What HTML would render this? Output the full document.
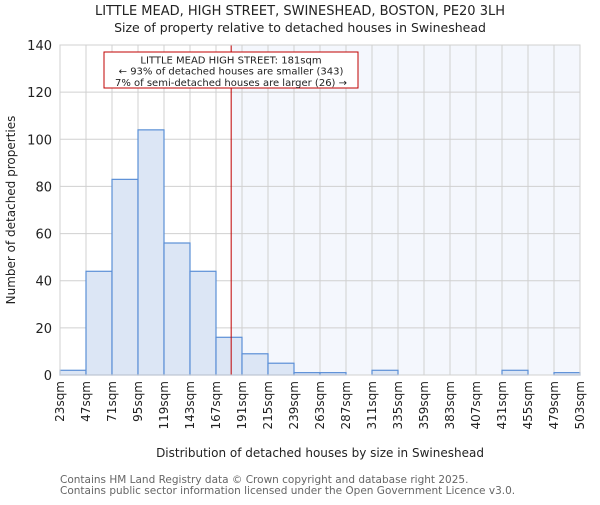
<!DOCTYPE html>
<html><head><meta charset="utf-8"><style>
body{margin:0;background:#fff}
svg{font-family:"DejaVu Sans","Liberation Sans",sans-serif}
</style></head><body>
<svg id="c" width="600" height="500" xmlns="http://www.w3.org/2000/svg">
<text x="300" y="15" text-anchor="middle" font-size="13" fill="#222">LITTLE MEAD, HIGH STREET, SWINESHEAD, BOSTON, PE20 3LH</text>
<text x="300" y="32" text-anchor="middle" font-size="12.5" fill="#222">Size of property relative to detached houses in Swineshead</text>
<g id="plot"></g>
<text x="15" y="210" transform="rotate(-90 15 210)" text-anchor="middle" font-size="12" fill="#222">Number of detached properties</text>
<text x="320" y="457" text-anchor="middle" font-size="12" fill="#222">Distribution of detached houses by size in Swineshead</text>
<text x="60" y="483" font-size="10.5" fill="#666">Contains HM Land Registry data © Crown copyright and database right 2025.</text>
<text x="60" y="494" font-size="10.5" fill="#666">Contains public sector information licensed under the Open Government Licence v3.0.</text>
</svg>
<script>
const binEdges=[23,47,71,95,119,143,167,191,215,239,263,287,311,335,359,383,407,431,455,479,503];
const counts=[2,44,83,104,56,44,16,9,5,1,1,0,2,0,0,0,0,2,0,1];
const yTicks=[0,20,40,60,80,100,120,140];
const propertySize=181;
const annotationLines=["LITTLE MEAD HIGH STREET: 181sqm","← 93% of detached houses are smaller (343)","7% of semi-detached houses are larger (26) →"];
const L=60,R=580,T=45,B=375,NS="http://www.w3.org/2000/svg";
const x=v=>L+(v-binEdges[0])/(binEdges[binEdges.length-1]-binEdges[0])*(R-L);
const y=v=>B-v/140*(B-T);
const g=document.getElementById('plot');
function mk(t,a,p){const e=document.createElementNS(NS,t);for(const k in a)e.setAttribute(k,a[k]);(p||g).appendChild(e);return e;}
let e=mk('rect',{x:x(propertySize),y:T,width:R-x(propertySize),height:B-T,fill:'#f4f7fd'});


binEdges.forEach(v=>{const l=mk('line',{x1:x(v),x2:x(v),y1:T,y2:B,stroke:'#d0d0d0'});

});
yTicks.forEach(v=>{const l=mk('line',{x1:L,x2:R,y1:y(v),y2:y(v),stroke:'#d0d0d0'});


const t=mk('text',{x:L-8,y:y(v)+5,'text-anchor':'end','font-size':13,fill:'#222'});t.textContent=v;

});
counts.forEach((c,i)=>{const r=mk('rect',{x:x(binEdges[i]),y:y(c),width:x(binEdges[i+1])-x(binEdges[i]),height:B-y(c),fill:'#dce6f5',stroke:'#5b8fd6','stroke-width':1.2});

});
binEdges.forEach(v=>{const xx=x(v)+4,t=mk('text',{x:xx,y:381,transform:`rotate(-90 ${xx} 381)`,'text-anchor':'end','font-size':12,fill:'#222'});t.textContent=v+'sqm';

});
e=mk('line',{x1:x(propertySize),x2:x(propertySize),y1:T,y2:B,stroke:'#c00000','stroke-width':1});


e=mk('rect',{x:104,y:52,width:254,height:36,fill:'#fff',stroke:'#c00000','stroke-width':1});


annotationLines.forEach((s,i)=>{const t=mk('text',{x:231,y:63.5+i*11.2,'text-anchor':'middle','font-size':10,fill:'#222'});t.textContent=s;

});
e=mk('rect',{x:L,y:T,width:R-L,height:B-T,fill:'none',stroke:'#d0d0d0'});


</script>
</body></html>
